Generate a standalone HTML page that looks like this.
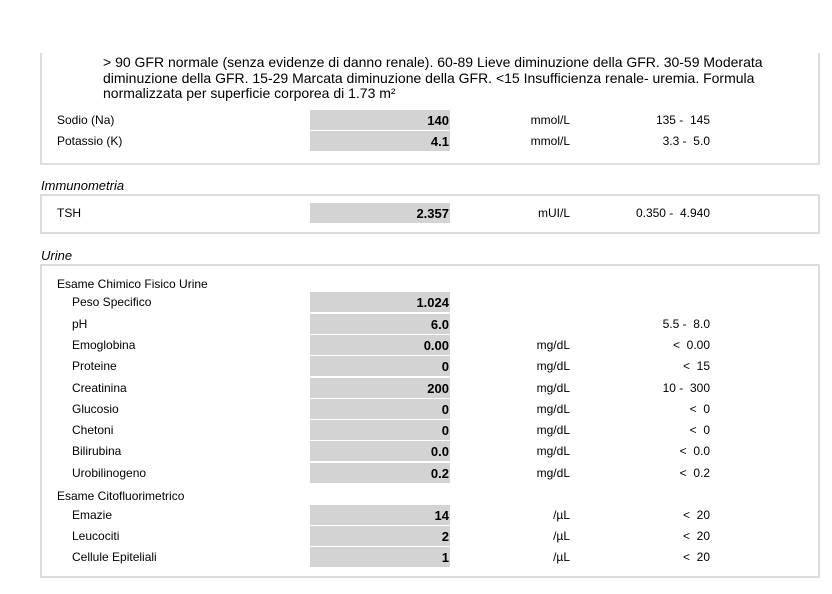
<!DOCTYPE html>
<html><head><meta charset="utf-8"><style>
body{margin:0;width:832px;height:594px;background:#fff;position:relative;overflow:hidden;font-family:"Liberation Sans",Arial,sans-serif;color:#000}
.box{position:absolute;border:2px solid #dcdcdc;box-sizing:border-box}
.t{position:absolute;font-size:12px;line-height:14px;white-space:nowrap}
.v{position:absolute;left:310px;width:140px;height:20px;background:#d3d3d3;font-size:13px;font-weight:bold;text-align:right;line-height:22px;box-sizing:border-box;padding-right:1px}
.u{position:absolute;width:100px;left:470px;text-align:right;font-size:12px}
.r{position:absolute;width:160px;left:550px;text-align:right;font-size:12px;white-space:pre}
.h{position:absolute;left:41px;font-size:13px;font-style:italic}
</style></head><body>
<div class="box" style="left:40px;top:53px;width:780px;height:112px;border-top:none"></div>
<div style="position:absolute;left:103px;top:55px;width:700px;font-size:14px;line-height:15.5px">&gt; 90 GFR normale (senza evidenze di danno renale). 60-89 Lieve diminuzione della GFR. 30-59 Moderata diminuzione della GFR. 15-29 Marcata diminuzione della GFR. &lt;15 Insufficienza renale- uremia. Formula normalizzata per superficie corporea di 1.73 m²</div>
<div class="h" style="top:178px">Immunometria</div>
<div class="box" style="left:40px;top:194px;width:780px;height:40px"></div>
<div class="h" style="top:248px">Urine</div>
<div class="box" style="left:40px;top:264px;width:780px;height:314px"></div>
<div id="rows"></div>
<script>
const names=["Sodio (Na)","Potassio (K)","TSH","Esame Chimico Fisico Urine","Peso Specifico","pH","Emoglobina","Proteine","Creatinina","Glucosio","Chetoni","Bilirubina","Urobilinogeno","Esame Citofluorimetrico","Emazie","Leucociti","Cellule Epiteliali"];
const values=["140","4.1","2.357",null,"1.024","6.0","0.00","0","200","0","0","0.0","0.2",null,"14","2","1"];
const units=["mmol/L","mmol/L","mUI/L","","","","mg/dL","mg/dL","mg/dL","mg/dL","mg/dL","mg/dL","mg/dL","","/µL","/µL","/µL"];
const ranges=["135 -  145","3.3 -  5.0","0.350 -  4.940","","","5.5 -  8.0","<  0.00","<  15","10 -  300","<  0","<  0","<  0.0","<  0.2","","<  20","<  20","<  20"];
const tops=[110,131,203,274,292,314,335,356,378,399,420,441,463,486,505,526,547];
const indent=[57,57,57,57,72,72,72,72,72,72,72,72,72,57,72,72,72];
const c=document.getElementById('rows');
names.forEach((n,i)=>{
 const y=tops[i];
 const l=document.createElement('div');l.className='t';l.style.left=indent[i]+'px';l.style.top=(y+3)+'px';l.textContent=n;
 
 
 c.appendChild(l);
 if(values[i]!==null){
  const v=document.createElement('div');v.className='v';v.style.top=y+'px';v.textContent=values[i];
  
  
  c.appendChild(v);
 }
 if(units[i]){const u=document.createElement('div');u.className='u';u.style.top=(y+3)+'px';u.textContent=units[i];
  
  
  c.appendChild(u);}
 if(ranges[i]){const r=document.createElement('div');r.className='r';r.style.top=(y+3)+'px';r.textContent=ranges[i];
  
  
  c.appendChild(r);}
});
</script>
</body></html>
